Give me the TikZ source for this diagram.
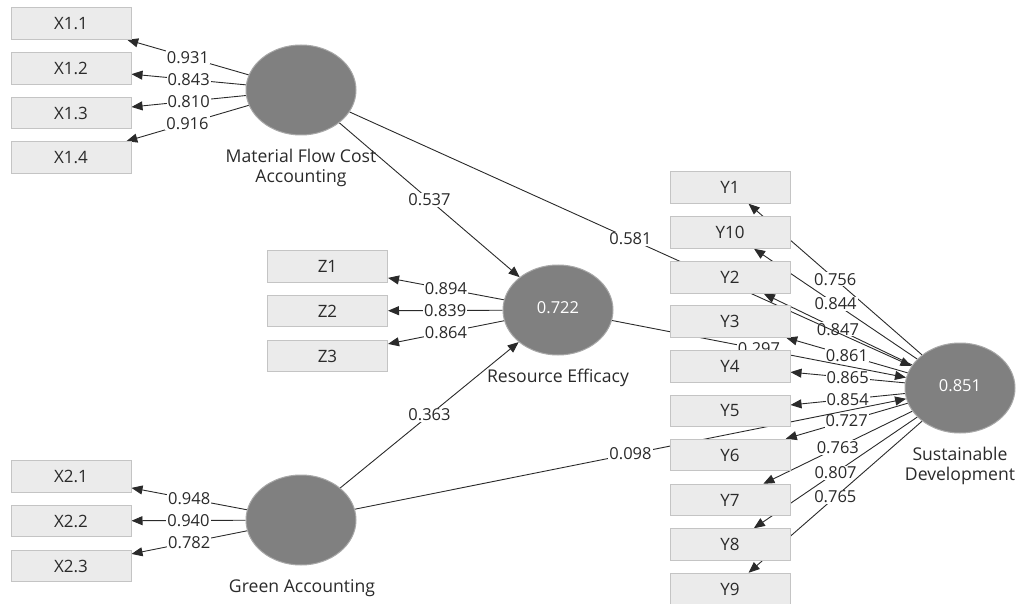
\documentclass[tikz,border=0pt]{standalone}
\usepackage{fontspec}
\setmainfont{Open Sans}
\usetikzlibrary{shapes.geometric,arrows.meta}
\pgfdeclarelayer{bg}
\pgfsetlayers{bg,main}
\definecolor{boxfill}{HTML}{EBEBEB}
\definecolor{boxline}{HTML}{C4C4C4}
\definecolor{latfill}{HTML}{808080}
\definecolor{latline}{HTML}{A8A8A8}
\definecolor{txt}{HTML}{2A2A2A}
\definecolor{linec}{HTML}{2A2A2A}
\tikzset{
  ind/.style={rectangle, draw=boxline, fill=boxfill, line width=1pt,
    minimum width=120pt, minimum height=31.5pt, inner sep=0pt,
    text=txt, font=\fontsize{17}{20}\selectfont},
  lat/.style={ellipse, draw=latline, fill=latfill, line width=1pt,
    minimum width=110pt, minimum height=90pt, inner sep=0pt,
    text=white, font=\fontsize{16.5}{19}\selectfont},
  latname/.style={align=center, text=txt, inner sep=0pt,
    font=\fontsize{17.6}{20}\selectfont},
  ld/.style={draw=linec, line width=0.9pt,
    -{Triangle[length=11pt,width=9pt]}},
  lbl/.style={fill=white, inner sep=1pt, text=txt,
    font=\fontsize{16.5}{19}\selectfont}
}
\begin{document}
\begin{tikzpicture}[x=1pt,y=-1pt]
\useasboundingbox (0,0) rectangle (1020,604);
% latent variables
\node[lat] (mfca) at (301,90) {};
\node[lat] (re) at (558,310) {\raisebox{5pt}{0.722}};
\node[lat] (ga) at (301,520) {};
\node[lat] (sd) at (960,388) {\raisebox{5pt}{0.851}};
\node[latname] (mfcaL) at (301,168) {Material Flow Cost\\Accounting};
\node[latname] (reL) at (558,378) {Resource Efficacy};
\node[latname] (gaL) at (302,588) {Green Accounting};
\node[latname] (sdL) at (960,466) {Sustainable\\Development};
% indicators
\node[ind] (x11) at (71,23.5) {X1.1};
\node[ind] (x12) at (71,68.5) {X1.2};
\node[ind] (x13) at (71,113) {X1.3};
\node[ind] (x14) at (71,157.5) {X1.4};
\node[ind] (x21) at (71,476.5) {X2.1};
\node[ind] (x22) at (71,521) {X2.2};
\node[ind] (x23) at (71,566) {X2.3};
\node[ind] (z1) at (327.5,266.5) {Z1};
\node[ind] (z2) at (327.5,311) {Z2};
\node[ind] (z3) at (327.5,356) {Z3};
\node[ind] (y1) at (730,187.5) {Y1};
\node[ind] (y10) at (730,232.5) {Y10};
\node[ind] (y2) at (730,277.5) {Y2};
\node[ind] (y3) at (730,321.5) {Y3};
\node[ind] (y4) at (730,366.5) {Y4};
\node[ind] (y5) at (730,411) {Y5};
\node[ind] (y6) at (730,455) {Y6};
\node[ind] (y7) at (730,500) {Y7};
\node[ind] (y8) at (730,544.5) {Y8};
\node[ind] (y9) at (730,589) {Y9};
\begin{pgfonlayer}{bg}
% outer loadings
\draw[ld] (mfca) -- node[lbl]{0.931} (x11);
\draw[ld] (mfca) -- node[lbl]{0.843} (x12);
\draw[ld] (mfca) -- node[lbl]{0.810} (x13);
\draw[ld] (mfca) -- node[lbl]{0.916} (x14);
\draw[ld] (ga) -- node[lbl]{0.948} (x21);
\draw[ld] (ga) -- node[lbl]{0.940} (x22);
\draw[ld] (ga) -- node[lbl]{0.782} (x23);
\draw[ld] (re) -- node[lbl]{0.894} (z1);
\draw[ld] (re) -- node[lbl]{0.839} (z2);
\draw[ld] (re) -- node[lbl]{0.864} (z3);
\draw[ld] (sd) -- node[lbl]{0.756} (y1);
\draw[ld] (sd) -- node[lbl]{0.844} (y10);
\draw[ld] (sd) -- node[lbl]{0.847} (y2);
\draw[ld] (sd) -- node[lbl]{0.861} (y3);
\draw[ld] (sd) -- node[lbl]{0.865} (y4);
\draw[ld] (sd) -- node[lbl]{0.854} (y5);
\draw[ld] (sd) -- node[lbl]{0.727} (y6);
\draw[ld] (sd) -- node[lbl]{0.763} (y7);
\draw[ld] (sd) -- node[lbl]{0.807} (y8);
\draw[ld] (sd) -- node[lbl]{0.765} (y9);
% structural paths
\draw[ld] (mfca) -- node[lbl]{0.537} (re);
\draw[ld] (mfca) -- node[lbl]{0.581} (sd);
\draw[ld] (ga) -- node[lbl]{0.363} (re);
\draw[ld] (ga) -- node[lbl]{0.098} (sd);
\draw[ld] (re) -- node[lbl]{0.297} (sd);
\end{pgfonlayer}
\end{tikzpicture}
\end{document}
